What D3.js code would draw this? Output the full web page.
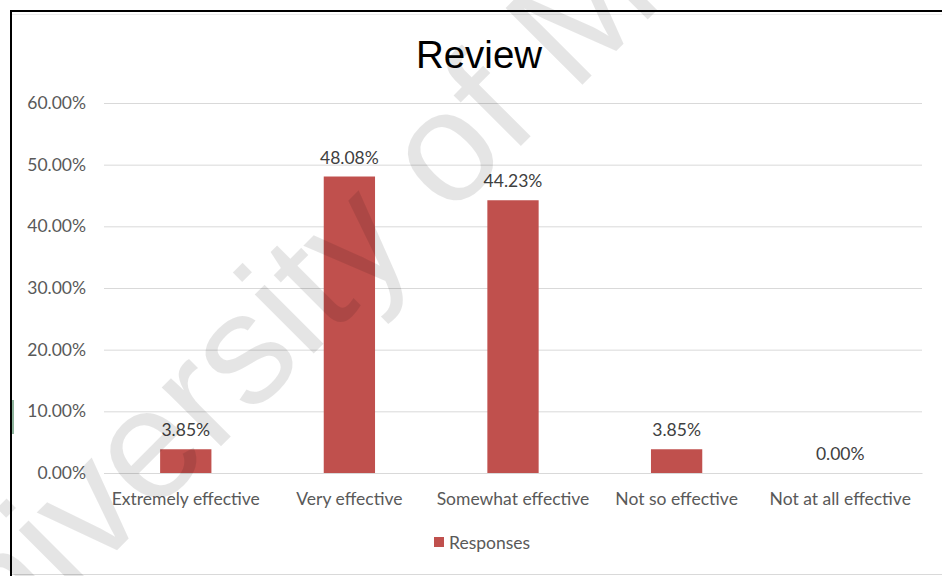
<!DOCTYPE html>
<html><head><meta charset="utf-8">
<script src="https://cdn.jsdelivr.net/npm/d3@7"></script>
<style>html,body{margin:0;padding:0;background:#fff;}svg{display:block;}</style>
</head><body>
<script>
const categories = ["Extremely effective","Very effective","Somewhat effective","Not so effective","Not at all effective"];
const values = [0.0385, 0.4808, 0.4423, 0.0385, 0.0];
const yTicks = [0, 0.1, 0.2, 0.3, 0.4, 0.5, 0.6];
const seriesName = "Responses";
const chartTitle = "Review";
const watermark = "University of Malaya";

const W = 942, H = 576;
const svg = d3.select("body").append("svg").attr("width", W).attr("height", H);
const lblFont = "Lato, 'Open Sans', sans-serif";

// frame
svg.append("rect").attr("x",11).attr("y",11).attr("width",W).attr("height",H).attr("fill","#fff");
svg.append("line").attr("x1",11).attr("x2",W).attr("y1",574.5).attr("y2",574.5).attr("stroke","#d9d9d9");
svg.append("line").attr("x1",11).attr("x2",W).attr("y1",14.5).attr("y2",14.5).attr("stroke","#ececec");
svg.append("line").attr("x1",10).attr("x2",W).attr("y1",11).attr("y2",11).attr("stroke","#000").attr("stroke-width",2);
svg.append("line").attr("x1",11).attr("x2",11).attr("y1",10).attr("y2",H).attr("stroke","#000").attr("stroke-width",2);
svg.append("line").attr("x1",13).attr("x2",13).attr("y1",400).attr("y2",434).attr("stroke","#1e6b3c").attr("stroke-width",1);

const x = d3.scaleBand().domain(categories).range([104, 922]).paddingInner(0.6865).paddingOuter(0.343);
const y = d3.scaleLinear().domain([0, 0.6]).range([473, 103]);
const fmt = d3.format(".2%");

// gridlines + y labels via axis
const yAxis = d3.axisLeft(y).tickValues(yTicks).tickFormat(fmt).tickSize(-(922-104)).tickPadding(18);
const gy = svg.append("g").attr("transform","translate(104,0)").call(yAxis);
gy.select(".domain").remove();
gy.selectAll(".tick line").attr("stroke","#d9d9d9").attr("stroke-width",1);
gy.selectAll(".tick text").attr("fill","#595959").attr("font-family",lblFont).attr("font-size","17.5px").attr("x",-18);

// x axis labels
const xAxis = d3.axisBottom(x).tickSize(0).tickPadding(20);
const gx = svg.append("g").attr("transform","translate(0,473)").call(xAxis);
gx.select(".domain").attr("stroke","#d9d9d9");
gx.selectAll(".tick text").attr("fill","#595959").attr("font-family",lblFont).attr("font-size","17.5px");

// bars
svg.append("g").selectAll("rect").data(values).join("rect")
  .attr("x",(d,i)=>x(categories[i])).attr("width",x.bandwidth())
  .attr("y",d=>y(d)).attr("height",d=>y(0)-y(d)).attr("fill","#c0504d");

// data labels
svg.append("g").selectAll("text").data(values).join("text")
  .attr("x",(d,i)=>x(categories[i])+x.bandwidth()/2).attr("y",d=>y(d)-13)
  .attr("text-anchor","middle").attr("fill","#404040").attr("font-family",lblFont).attr("font-size","17.5px")
  .text(d=>fmt(d));

// title
svg.append("text").attr("x",479).attr("y",68).attr("text-anchor","middle")
  .attr("font-family","'Liberation Sans', Arial, sans-serif").attr("font-size","38.5px").attr("fill","#000").text(chartTitle);

// legend
const lg = svg.append("g");
lg.append("rect").attr("x",434).attr("y",537).attr("width",10).attr("height",10).attr("fill","#c0504d");
lg.append("text").attr("x",449).attr("y",549).attr("fill","#595959").attr("font-family",lblFont).attr("font-size","17.5px").text(seriesName);

// watermark
const wg = svg.append("g").attr("transform","translate(451,158) rotate(-45)");
const fs = 158;
const wt = wg.append("text").attr("font-family","'Liberation Sans', Arial, sans-serif").attr("font-size",fs+"px")
  .attr("fill","#000").attr("fill-opacity",0.1).text(watermark);
const idx = watermark.indexOf(" of ")+1;
const off = wt.node().getSubStringLength(0, idx) + wt.node().getSubStringLength(idx,1)/2;
wt.attr("x",-off).attr("y",0.26*fs);
</script>
</body></html>
